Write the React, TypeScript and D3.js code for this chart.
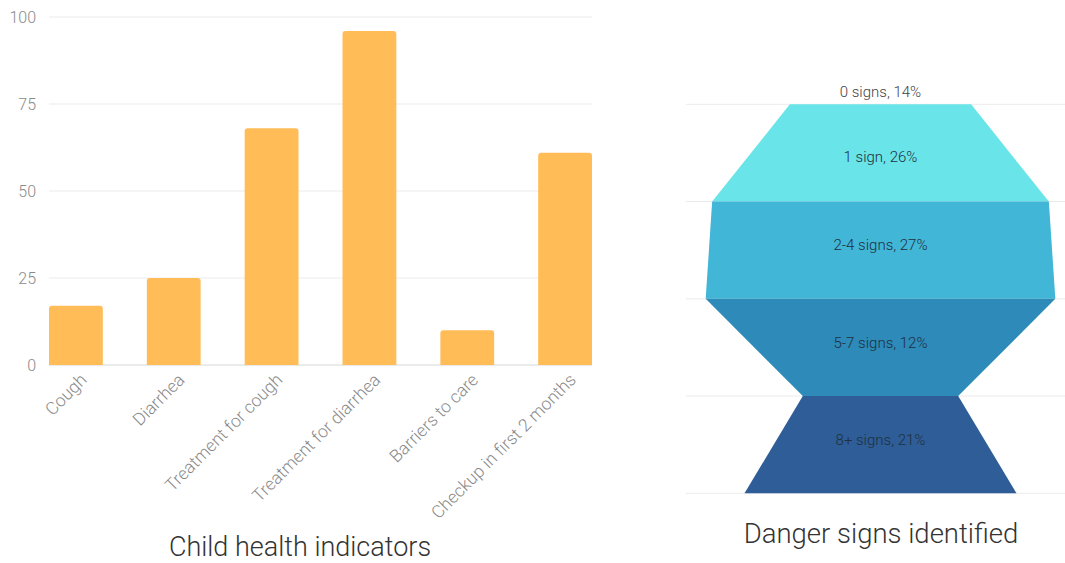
import React from "react";
import * as d3 from "d3";

const categories = ["Cough", "Diarrhea", "Treatment for cough", "Treatment for diarrhea", "Barriers to care", "Checkup in first 2 months"];
const values = [17, 25, 68, 96, 10, 61];
const yTicks = [0, 25, 50, 75, 100];

const funnelLabels = ["0 signs", "1 sign", "2-4 signs", "5-7 signs", "8+ signs"];
const funnelValues = [14, 26, 27, 12, 21];
const funnelColors = ["#69E4E8", "#42B6D6", "#2D8AB9", "#2E5D97"];

const FONT = "Roboto, 'Open Sans', sans-serif";

export default function App() {
  const W = 1065, H = 563;
  const x = d3.scaleBand<string>().domain(categories).range([49, 592]).paddingInner(0.45).paddingOuter(0);
  const y = d3.scaleLinear().domain([0, 100]).range([365, 17]);

  const fy = d3.scaleLinear().domain([0, funnelValues.length - 1]).range([104.3, 493.3]);
  const fw = d3.scaleLinear().domain([0, 1]).range([0, 12.95]);
  const cx = 880.5;
  const segs = d3.range(funnelValues.length - 1).map((i) => {
    const a = fw(funnelValues[i]) / 2;
    const b = fw(funnelValues[i + 1]) / 2;
    const y0 = fy(i), y1 = fy(i + 1);
    const pts: [number, number][] = [[cx - a, y0], [cx + a, y0], [cx + b, y1], [cx - b, y1]];
    return { pts, y0, y1, color: funnelColors[i] };
  });
  const line = d3.line();

  return (
    <svg width={W} height={H} style={{ position: "absolute", left: 0, top: 0, background: "#fff" }} fontFamily={FONT}>
      {yTicks.map((t) => (
        <g key={t}>
          <line x1={49} x2={592} y1={y(t)} y2={y(t)} stroke={t === 0 ? "#d6d6d6" : "#ebebeb"} strokeWidth={1} />
          <text x={36} y={y(t)} dy="0.35em" textAnchor="end" fontSize={16} fill="#8a8a8a" fontWeight={300}>{t}</text>
        </g>
      ))}
      {categories.map((c, i) => {
        const bx = x(c)!;
        const by = y(values[i]);
        const h = y(0) - by;
        const r = 3;
        const bw = x.bandwidth();
        const p = `M${bx},${by + h} L${bx},${by + r} Q${bx},${by} ${bx + r},${by} L${bx + bw - r},${by} Q${bx + bw},${by} ${bx + bw},${by + r} L${bx + bw},${by + h} Z`;
        return <path key={c} d={p} fill="#FFBC57" />;
      })}
      {categories.map((c) => {
        const mx = x(c)! + x.bandwidth() / 2;
        return (
          <text key={c} transform={`translate(${mx + 12},${381}) rotate(-45)`} textAnchor="end" fontSize={17.5} fill="#8a8a8a" fontWeight={300}>
            {c}
          </text>
        );
      })}
      <text x={300} y={556} textAnchor="middle" fontSize={27} fill="#333" fontWeight={300}>Child health indicators</text>

      {funnelValues.map((_, i) => (
        <line key={i} x1={686} x2={1065} y1={fy(i)} y2={fy(i)} stroke="#ebebeb" strokeWidth={1} />
      ))}
      {segs.map((s, i) => (
        <path key={i} d={line(s.pts)! + "Z"} fill={s.color} />
      ))}
      {funnelLabels.map((l, i) => {
        const ly = i === 0 ? fy(0) - 13 : (fy(i - 1) + fy(i)) / 2 + (i === 1 ? 4 : -5);
        return (
          <text key={l} x={cx} y={ly} dy="0.35em" textAnchor="middle" fontSize={15} fill={i === 0 ? "#444" : "#1f3040"} fontWeight={300}>
            {`${l}, ${funnelValues[i]}%`}
          </text>
        );
      })}
      <text x={881} y={543} textAnchor="middle" fontSize={27.5} fill="#333" fontWeight={300}>Danger signs identified</text>
    </svg>
  );
}
